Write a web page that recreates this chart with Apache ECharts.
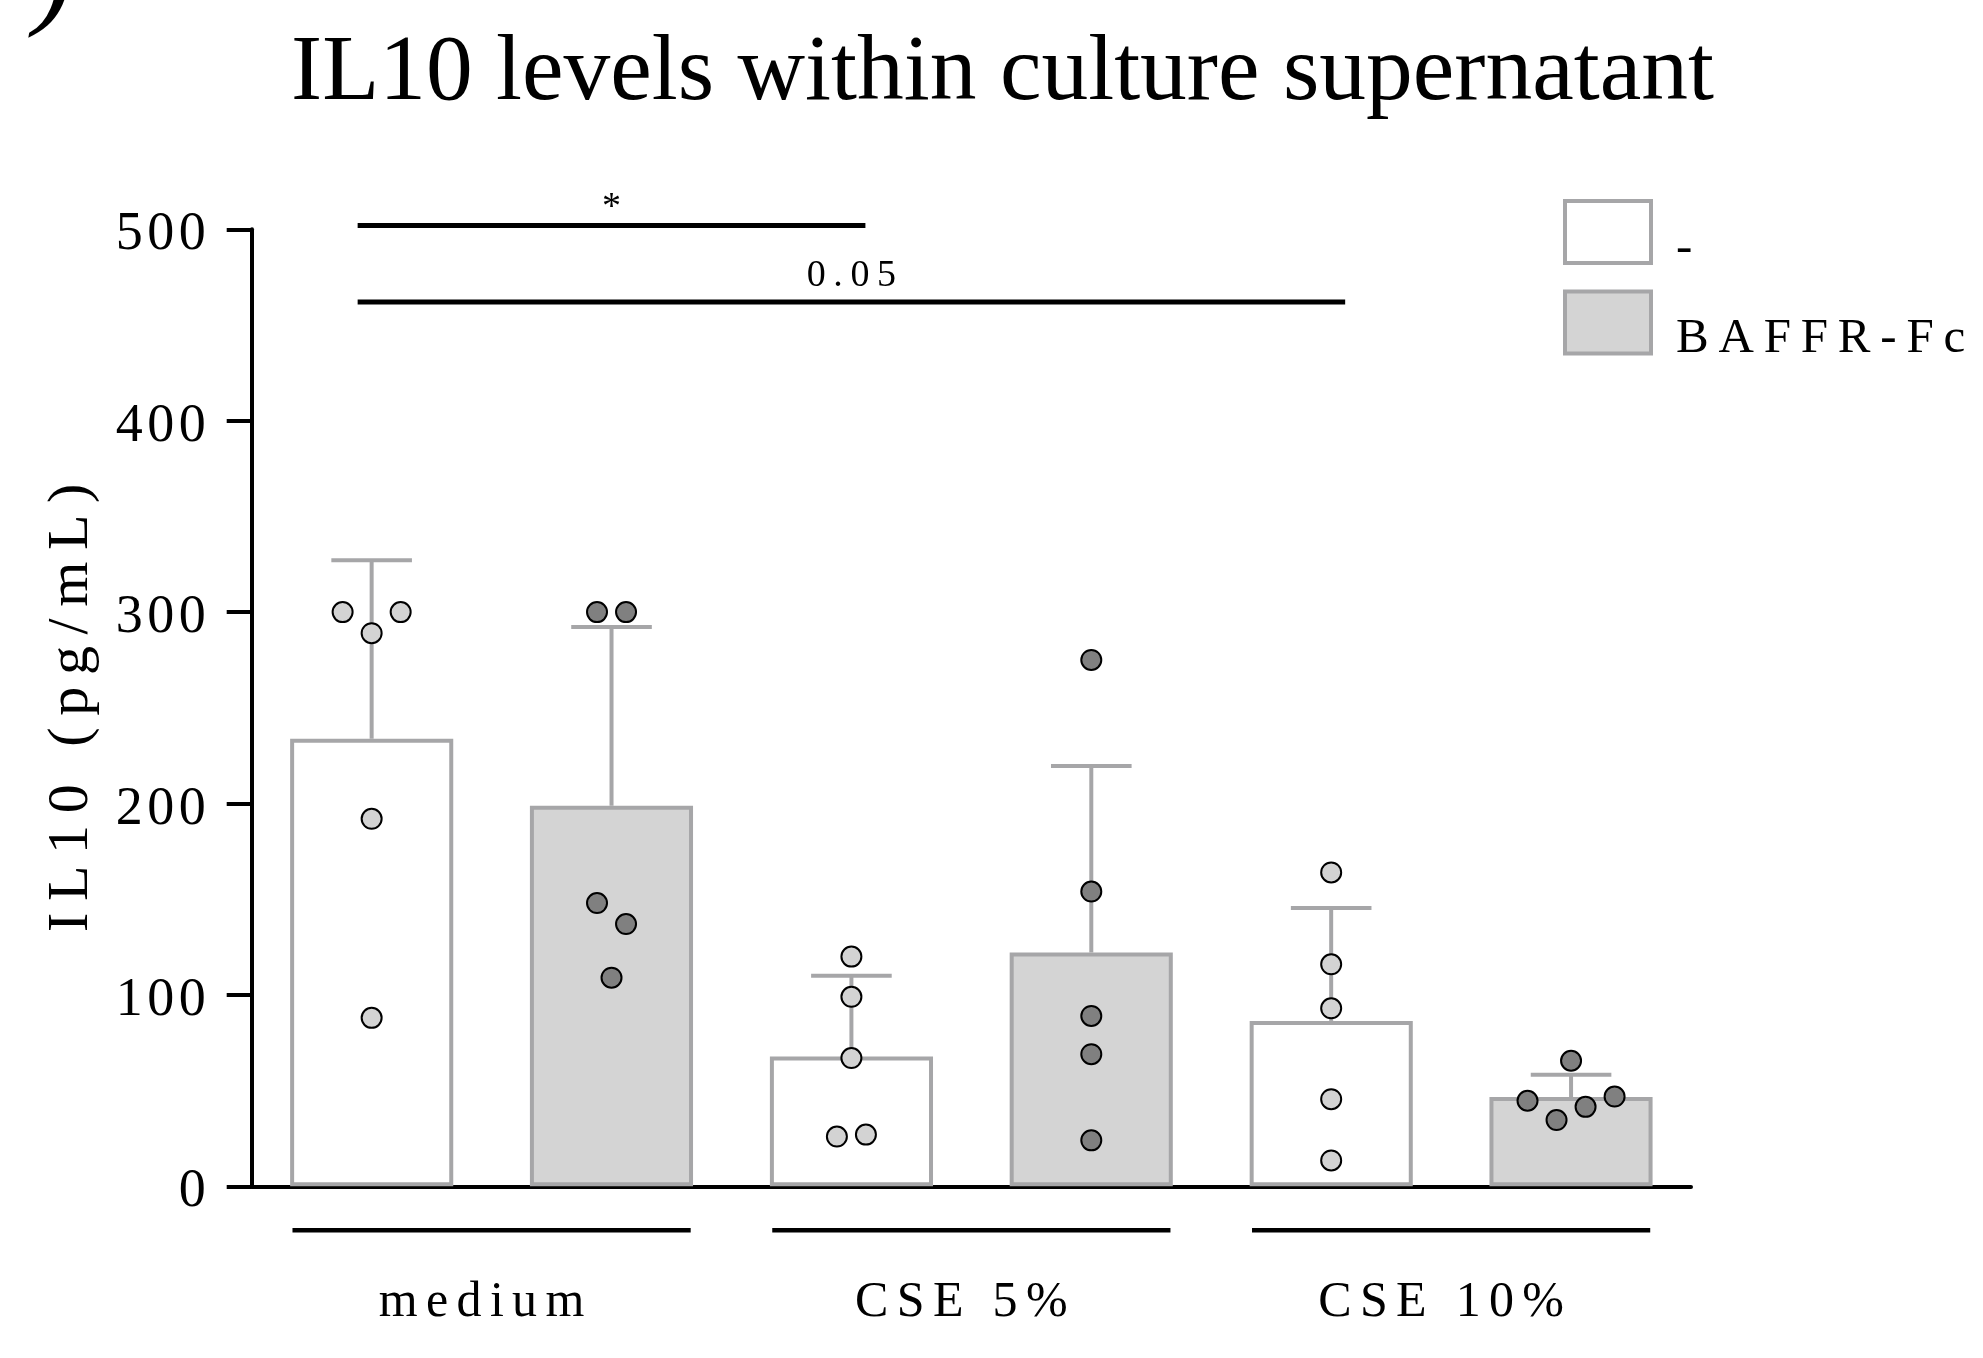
<!DOCTYPE html>
<html>
<head>
<meta charset="utf-8">
<title>IL10 levels within culture supernatant</title>
<script src="https://cdn.jsdelivr.net/npm/echarts@6/dist/echarts.min.js"></script>
<style>
  html, body { margin: 0; padding: 0; background: #fff; }
  #main { width: 1983px; height: 1358px; }
</style>
</head>
<body>
<div id="main"></div>
<script>
const groups = ['medium', 'CSE 5%', 'CSE 10%'];
const treatments = ['-', 'BAFFR-Fc'];
const yTicks = [0, 100, 200, 300, 400, 500];

// one value per well (order = left to right inside a row)
const ctrlPoints = [
    [300, 289, 300, 192, 88],
    [120, 99, 67, 26, 27],
    [164, 116, 93, 45.5, 13.5]
];
const baffrPoints = [
    [300, 300, 148, 137, 109],
    [275, 154, 89, 69, 24],
    [65.6, 44.7, 34.6, 41.5, 46.9]
];

// comparisons between bars (bar index 0..5), their height and p label
const sigPairs = [[0, 2], [0, 4]];
const sigHeights = [502, 462];
const sigLabels = ['*', '0.05'];

const FONT = "'Liberation Serif', 'Times New Roman', serif";
const GRAY = '#a6a6a8';
const FILL = ['#ffffff', '#d4d4d4'];
const DOT = ['#d3d3d3', '#808080'];
const DOT_STEP = 0.0605;   // x distance between dots in one row, in group units
const CAP_HALF = 0.084;
const LINE_HALF = 0.415;

function spaced(s, sp) {
    return s.split('').join(sp || '\u2009');
}

function mean(a) {
    return a.reduce((s, v) => s + v, 0) / a.length;
}

function sd(a) {
    const m = mean(a);
    return Math.sqrt(a.reduce((s, v) => s + (v - m) * (v - m), 0) / (a.length - 1));
}

// dots that sit too close vertically are put side by side
function swarm(vals, gap) {
    const order = vals.map((v, i) => i).sort((a, b) => vals[b] - vals[a]);
    const off = vals.map(() => 0);
    let row = [order[0]];
    const flush = () => {
        row.sort((a, b) => a - b);
        row.forEach((idx, k) => { off[idx] = k - (row.length - 1) / 2; });
    };
    for (let j = 1; j < order.length; j++) {
        if (vals[order[j - 1]] - vals[order[j]] < gap) {
            row.push(order[j]);
        } else {
            flush();
            row = [order[j]];
        }
    }
    flush();
    return off;
}

function barX(k) {
    return Math.floor(k / 2) + 0.25 + 0.5 * (k % 2);
}

const pointSets = [ctrlPoints, baffrPoints];

function dotData(t) {
    const out = [];
    pointSets[t].forEach((vals, g) => {
        const off = swarm(vals, 15);
        vals.forEach((v, i) => out.push([barX(g * 2 + t) + off[i] * DOT_STEP, v]));
    });
    return out;
}

const errData = [];
pointSets.forEach((set, t) => {
    set.forEach((vals, g) => {
        const m = mean(vals);
        errData.push([barX(g * 2 + t), m, m + sd(vals)]);
    });
});

const sigData = sigPairs.map((p, i) => [barX(p[0]), barX(p[1]), sigHeights[i], i]);

const chart = echarts.init(document.getElementById('main'));

chart.setOption({
    animation: false,
    backgroundColor: '#fff',
    title: {
        text: 'IL10 levels within culture supernatant',
        left: 291,
        top: 27,
        padding: 0,
        textStyle: { fontFamily: FONT, fontSize: 93.5, fontWeight: 'normal', color: '#000' }
    },
    graphic: [{
        type: 'text',
        x: 34,
        y: -80,
        style: { text: ')', font: "italic 120px 'Liberation Serif'", fill: '#000' }
    }],
    legend: {
        orient: 'vertical',
        left: 1558,
        top: 194,
        itemWidth: 86,
        itemHeight: 62,
        itemGap: 16,
        selectedMode: false,
        formatter: (n) => '{t|' + spaced(n) + '}',
        textStyle: {
            fontFamily: FONT, fontSize: 49, color: '#000',
            rich: { t: { fontFamily: FONT, fontSize: 49, color: '#000', padding: [34, 0, 0, 20] } }
        },
        data: treatments.map((n, t) => ({
            name: n,
            icon: 'rect',
            itemStyle: { color: FILL[t], borderColor: GRAY, borderWidth: 4 }
        }))
    },
    grid: { left: 251.7, right: 292, top: 229.3, bottom: 171.7 },
    xAxis: [{
        type: 'category',
        data: groups,
        axisLine: { lineStyle: { color: '#000', width: 4 } },
        axisTick: { show: false },
        axisLabel: {
            margin: 92,
            fontFamily: FONT,
            fontSize: 50,
            color: '#000',
            formatter: (v) => spaced(v, '\u2006') + '\u2009\u2009'
        }
    }, {
        type: 'value',
        min: 0,
        max: 3,
        show: false
    }],
    yAxis: {
        type: 'value',
        min: 0,
        max: 500,
        interval: 100,
        name: spaced('IL10 (pg/mL)'),
        nameLocation: 'middle',
        nameGap: 151,
        nameTextStyle: { fontFamily: FONT, fontSize: 58, color: '#000' },
        axisLine: { show: true, lineStyle: { color: '#000', width: 4 } },
        axisTick: { show: true, length: 25, lineStyle: { color: '#000', width: 4 } },
        splitLine: { show: false },
        axisLabel: {
            margin: 46,
            color: '#000',
            formatter: (v) => yTicks.indexOf(v) >= 0 ? '{v|' + spaced(String(v), '\u200a') + '}' : '',
            rich: { v: { fontFamily: FONT, fontSize: 54, color: '#000', padding: [12, 0, 0, 0] } }
        }
    },
    series: [
        ...treatments.map((n, t) => ({
            name: n,
            type: 'bar',
            z: 2,
            barWidth: '34%',
            barGap: '47%',
            data: pointSets[t].map(mean),
            itemStyle: { color: FILL[t], borderColor: GRAY, borderWidth: 4 },
            emphasis: { disabled: true }
        })),
        {
            name: 'sd',
            type: 'custom',
            xAxisIndex: 1,
            z: 3,
            data: errData,
            encode: { x: 0, y: [1, 2] },
            renderItem: (params, api) => {
                const x = api.value(0);
                const base = api.coord([x, api.value(1)]);
                const top = api.coord([x, api.value(2)]);
                const half = api.size([1, 0])[0] * CAP_HALF;
                const st = { stroke: GRAY, lineWidth: 4 };
                return {
                    type: 'group',
                    children: [
                        { type: 'line', shape: { x1: base[0], y1: base[1], x2: top[0], y2: top[1] }, style: st },
                        { type: 'line', shape: { x1: top[0] - half, y1: top[1], x2: top[0] + half, y2: top[1] }, style: st }
                    ]
                };
            }
        },
        ...treatments.map((n, t) => ({
            name: n + ' wells',
            type: 'scatter',
            xAxisIndex: 1,
            z: 4,
            symbol: 'circle',
            symbolSize: 20,
            data: dotData(t),
            itemStyle: { color: DOT[t], borderColor: '#000', borderWidth: 2, opacity: 1 },
            emphasis: { disabled: true }
        })),
        {
            name: 'groups',
            type: 'custom',
            xAxisIndex: 1,
            z: 3,
            clip: false,
            data: groups.map((g, i) => [i + 0.5, 0]),
            encode: { x: 0, y: 1 },
            renderItem: (params, api) => {
                const c = api.coord([api.value(0), 0]);
                const w = api.size([1, 0])[0] * LINE_HALF;
                return {
                    type: 'line',
                    shape: { x1: c[0] - w, y1: c[1] + 44, x2: c[0] + w, y2: c[1] + 44 },
                    style: { stroke: '#000', lineWidth: 4.5 }
                };
            }
        },
        {
            name: 'significance',
            type: 'custom',
            xAxisIndex: 1,
            z: 3,
            clip: false,
            data: sigData,
            encode: { x: [0, 1], y: 2 },
            renderItem: (params, api) => {
                const a = api.coord([api.value(0), api.value(2)]);
                const b = api.coord([api.value(1), api.value(2)]);
                const label = sigLabels[api.value(3)];
                const star = /^\*+$/.test(label);
                const lift = star ? 4 : 13;
                return {
                    type: 'group',
                    children: [
                        { type: 'line', shape: { x1: a[0] - 14, y1: a[1], x2: b[0] + 14, y2: b[1] }, style: { stroke: '#000', lineWidth: 5 } },
                        {
                            type: 'text',
                            x: (a[0] + b[0]) / 2,
                            y: a[1] - lift + 6,
                            style: {
                                text: star ? label : spaced(label),
                                font: '38px ' + FONT,
                                fill: '#000',
                                align: 'center',
                                verticalAlign: 'bottom',
                                textAlign: 'center',
                                textVerticalAlign: 'bottom'
                            }
                        }
                    ]
                };
            }
        }
    ]
});
</script>
</body>
</html>
